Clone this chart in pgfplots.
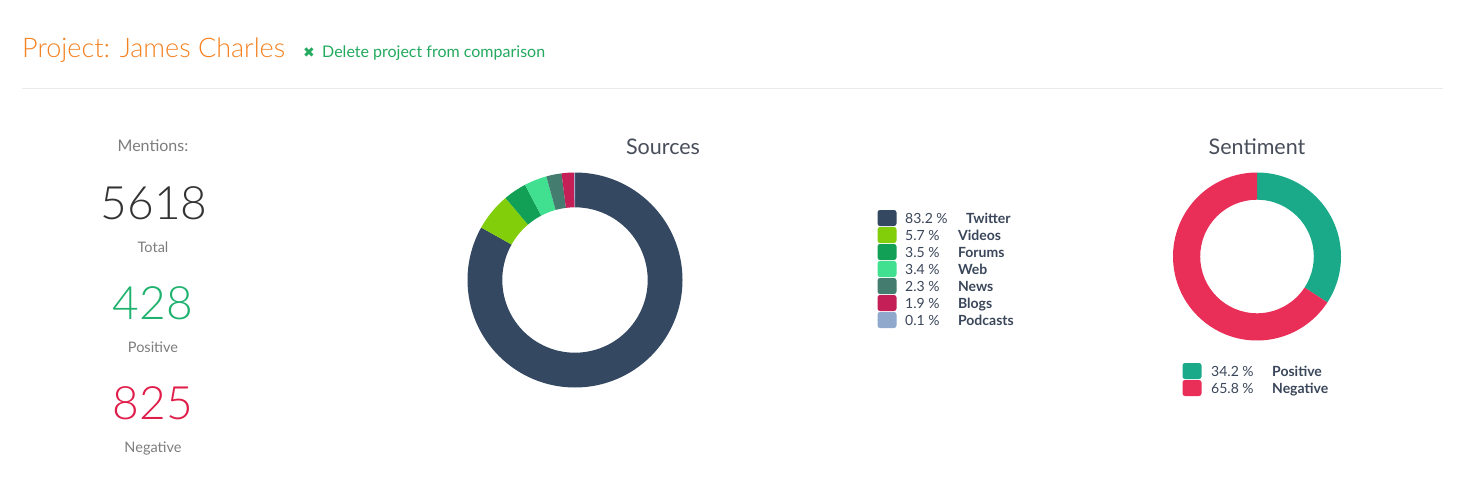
\documentclass[border=0pt]{standalone}
\usepackage{pgfplots}
\pgfplotsset{compat=1.18}
\usepackage{pgfplotstable}
\usepackage{fontspec}
\setmainfont{Lato}
\newfontfamily\light{Lato Light}
\newfontfamily\symb{DejaVu Sans}

\definecolor{cTitle}{RGB}{245,130,32}
\definecolor{cDelete}{RGB}{35,170,95}
\definecolor{cLine}{RGB}{234,234,234}
\definecolor{cGrey}{RGB}{125,125,125}
\definecolor{cDark}{RGB}{51,51,51}
\definecolor{cHead}{RGB}{72,78,90}
\definecolor{cLegend}{RGB}{58,70,90}
\definecolor{cPosNum}{RGB}{30,178,110}
\definecolor{cNegNum}{RGB}{224,28,72}
\definecolor{c0}{RGB}{52,72,97}    % Twitter
\definecolor{c1}{RGB}{130,206,10}  % Videos
\definecolor{c2}{RGB}{18,160,86}   % Forums
\definecolor{c3}{RGB}{64,224,144}  % Web
\definecolor{c4}{RGB}{68,125,112}  % News
\definecolor{c5}{RGB}{197,31,87}   % Blogs
\definecolor{c6}{RGB}{144,168,204} % Podcasts
\definecolor{c7}{RGB}{26,170,138}  % Positive
\definecolor{c8}{RGB}{233,46,88}   % Negative
\newcommand\slicename[1]{\ifcase#1 Twitter\or Videos\or Forums\or Web\or News\or Blogs\or Podcasts\or Positive\or Negative\fi}

% one row per slice: donut centre and radii, share, legend position, id
\pgfplotstableread{
cx  cy  ro    ri   pct  tot   lx  ly  id
575 280 107.5 72.7 83.2 100.1 887 218 0
575 280 107.5 72.7 5.7  100.1 887 235 1
575 280 107.5 72.7 3.5  100.1 887 252 2
575 280 107.5 72.7 3.4  100.1 887 269 3
575 280 107.5 72.7 2.3  100.1 887 286 4
575 280 107.5 72.7 1.9  100.1 887 303 5
575 280 107.5 72.7 0.1  100.1 887 320 6
}\sources
\pgfplotstablecreatecol[create col/expr accum={\pgfmathaccuma+\thisrow{pct}}{0}]{cum}\sources

\pgfplotstableread{
cx   cy    ro  ri   pct  tot lx   ly  id
1257 256.5 84  56.8 34.2 100 1192 371 7
1257 256.5 84  56.8 65.8 100 1192 388 8
}\sentiment
\pgfplotstablecreatecol[create col/expr accum={\pgfmathaccuma+\thisrow{pct}}{0}]{cum}\sentiment

\pgfdeclareplotmark{empty}{}

\pgfplotsset{
  slice data/.style={
    scatter, only marks, mark=empty,
    visualization depends on={\thisrow{ro} \as \vRo},
    visualization depends on={\thisrow{ri} \as \vRi},
    visualization depends on={\thisrow{pct} \as \vPct},
    visualization depends on={\thisrow{cum} \as \vCum},
    visualization depends on={\thisrow{tot} \as \vTot},
    visualization depends on={\thisrow{id} \as \vId},
    scatter/@post marker code/.code={},
  },
  donut/.style={
    slice data,
    scatter/@pre marker code/.code={%
      \pgfmathtruncatemacro\sid{\vId}%
      \pgfmathsetmacro\angA{90-(\vCum-\vPct)/\vTot*360}%
      \pgfmathsetmacro\angB{90-\vCum/\vTot*360}%
      \fill[fill=c\sid, draw=none]
        (\angA:\vRo pt) arc[start angle=\angA, end angle=\angB, radius=\vRo pt]
        -- (\angB:\vRi pt) arc[start angle=\angB, end angle=\angA, radius=\vRi pt]
        -- cycle;
    },
  },
  legend rows/.style={
    slice data,
    scatter/@pre marker code/.code={%
      \pgfmathtruncatemacro\sid{\vId}%
      \fill[fill=c\sid, draw=none, rounded corners=2.5pt]
        (-9.5pt,-8pt) rectangle (9.5pt,8pt);
      \node[anchor=base west, inner sep=0pt, text=cLegend,
            font=\fontsize{14}{15}\selectfont] at (#1pt,-5pt)
        {\pgfmathprintnumber[fixed, precision=1, fixed zerofill, assume math mode=true]{\vPct}\ \%\hspace{18.5pt}\textbf{\slicename{\sid}}};
    },
  },
}

\begin{document}
\begin{tikzpicture}
\fill[white] (0,0) rectangle (1462pt,493pt);
\begin{axis}[
  at={(0,0)}, anchor=south west,
  width=1462pt, height=493pt, scale only axis,
  xmin=0, xmax=1462, ymin=0, ymax=493,
  y dir=reverse,
  hide axis, clip=false,
]
  % header
  \node[anchor=base west, inner sep=0pt, text=cTitle,
        font=\light\fontsize{27}{30}\selectfont] at (axis cs:22,57.5) {Project: James Charles};
  \node[anchor=base west, inner sep=0pt, text=cDelete,
        font=\symb\fontsize{14}{16}\selectfont] at (axis cs:303,57.5) {✖};
  \node[anchor=base west, inner sep=0pt, text=cDelete,
        font=\fontsize{16}{18}\selectfont] at (axis cs:322,57.5) {Delete project from comparison};
  \draw[cLine, line width=1pt] (axis cs:22,88) -- (axis cs:1443,88);

  % mentions
  \node[anchor=base, inner sep=0pt, text=cGrey, font=\fontsize{16}{18}\selectfont]
    at (axis cs:153,151) {Mentions:};
  \node[anchor=base, inner sep=0pt, text=cDark, font=\light\fontsize{46}{50}\selectfont]
    at (axis cs:154,219.5) {5618};
  \node[anchor=base, inner sep=0pt, text=cGrey, font=\fontsize{14.5}{16}\selectfont]
    at (axis cs:153,252) {Total};
  \node[anchor=base, inner sep=0pt, text=cPosNum, font=\light\fontsize{46}{50}\selectfont]
    at (axis cs:153,319) {428};
  \node[anchor=base, inner sep=0pt, text=cGrey, font=\fontsize{14.5}{16}\selectfont]
    at (axis cs:153,352) {Positive};
  \node[anchor=base, inner sep=0pt, text=cNegNum, font=\light\fontsize{46}{50}\selectfont]
    at (axis cs:153,419) {825};
  \node[anchor=base, inner sep=0pt, text=cGrey, font=\fontsize{14.5}{16}\selectfont]
    at (axis cs:153,452) {Negative};

  % chart titles
  \node[anchor=base, inner sep=0pt, text=cHead, font=\fontsize{21.5}{24}\selectfont]
    at (axis cs:663,154) {Sources};
  \node[anchor=base, inner sep=0pt, text=cHead, font=\fontsize{21.5}{24}\selectfont]
    at (axis cs:1257,154) {Sentiment};

  % donuts
  \addplot[donut] table[x=cx, y=cy] {\sources};
  \addplot[donut] table[x=cx, y=cy] {\sentiment};

  % legends
  \addplot[legend rows=18] table[x=lx, y=ly] {\sources};
  \addplot[legend rows=19] table[x=lx, y=ly] {\sentiment};
\end{axis}
\end{tikzpicture}
\end{document}
